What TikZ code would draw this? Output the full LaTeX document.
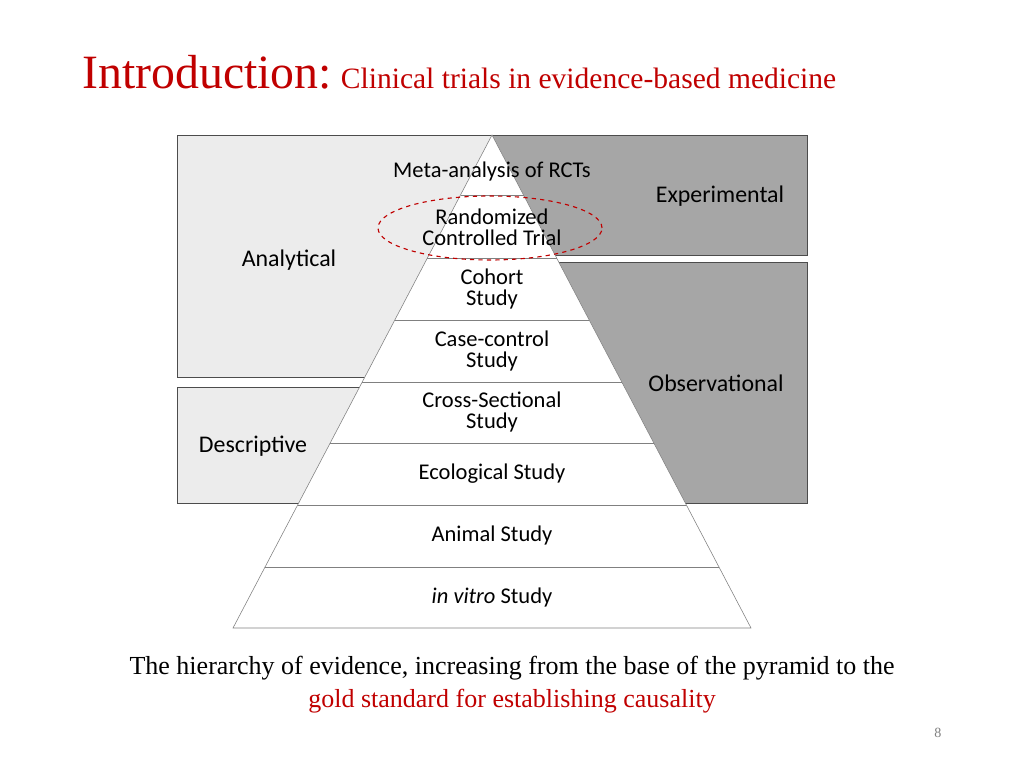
\documentclass[tikz,border=0pt]{standalone}
\usepackage{fontspec}
\setmainfont{Liberation Serif}
\newfontfamily\calfont{Carlito}
\definecolor{titlered}{RGB}{192,0,0}
\definecolor{lightbox}{RGB}{236,236,236}
\definecolor{darkbox}{RGB}{166,166,166}
\tikzset{
  lvl/.style={font=\calfont\fontsize{16}{18}\selectfont, align=center},
  side/.style={font=\calfont\fontsize{17}{19}\selectfont},
  boxl/.style={draw=black!70, fill=lightbox},
  boxd/.style={draw=black!70, fill=darkbox}
}
\begin{document}
\begin{tikzpicture}[x=0.025cm,y=0.025cm]
\useasboundingbox (0,0) rectangle (1024,768);

% title
\node[anchor=base west, text=titlered, font=\fontsize{34}{36}\selectfont, inner sep=0] (intro) at (82,679) {Introduction:};
\node[anchor=base west, text=titlered, font=\fontsize{21}{24}\selectfont, inner sep=0] (sub) at ([xshift=6]intro.base east) {Clinical trials in evidence-based medicine};

% background boxes
\draw[boxl] (177,633) rectangle (492,391);
\draw[boxd] (492,633) rectangle (807,513);
\draw[boxd] (558,506) rectangle (807,265);
\draw[boxl] (177,381) rectangle (360,265);

% pyramid
\coordinate (apex) at (492,633);
\coordinate (bl) at (233,140);
\coordinate (br) at (751,140);
\draw[fill=white, draw=black!50] (apex) -- (bl) -- (br) -- cycle;
\foreach \y in {573,510,448,386,325,263,201}
  \draw[black!50] ({492-0.525*(633-\y)},\y) -- ({492+0.525*(633-\y)},\y);

% levels
\node[lvl] (meta) at (492,596) {Meta-analysis of RCTs};
\node[lvl] (rct) at (492,541) {Randomized\\[-3pt]Controlled Trial};
\node[lvl] (coh) at (492,479) {Cohort\\[-3pt]Study};
\node[lvl] (cc) at (492,417) {Case-control\\[-3pt]Study};
\node[lvl] (cs) at (492,356) {Cross-Sectional\\[-3pt]Study};
\node[lvl] (eco) at (492,294) {Ecological Study};
\node[lvl] (ani) at (492,232) {Animal Study};
\node[lvl] (vitro) at (492,170) {\textit{in vitro} Study};

% sides
\node[side] (ana) at (289,508) {Analytical};
\node[side] (exp) at (720,572) {Experimental};
\node[side] (obs) at (716,385) {Observational};
\node[side] (des) at (253,322) {Descriptive};

% highlight
\draw[titlered, dashed, thick] (490,540) ellipse (112 and 32);

% caption
\node[font=\fontsize{18.5}{21}\selectfont] (cap1) at (512,100) {The hierarchy of evidence, increasing from the base of the pyramid to the};
\node[font=\fontsize{18.5}{21}\selectfont, text=titlered] (cap2) at (512,67) {gold standard for establishing causality};
\node[font=\fontsize{10}{12}\selectfont, text=black!50] (pg) at (938,35) {8};
\end{tikzpicture}
\end{document}
